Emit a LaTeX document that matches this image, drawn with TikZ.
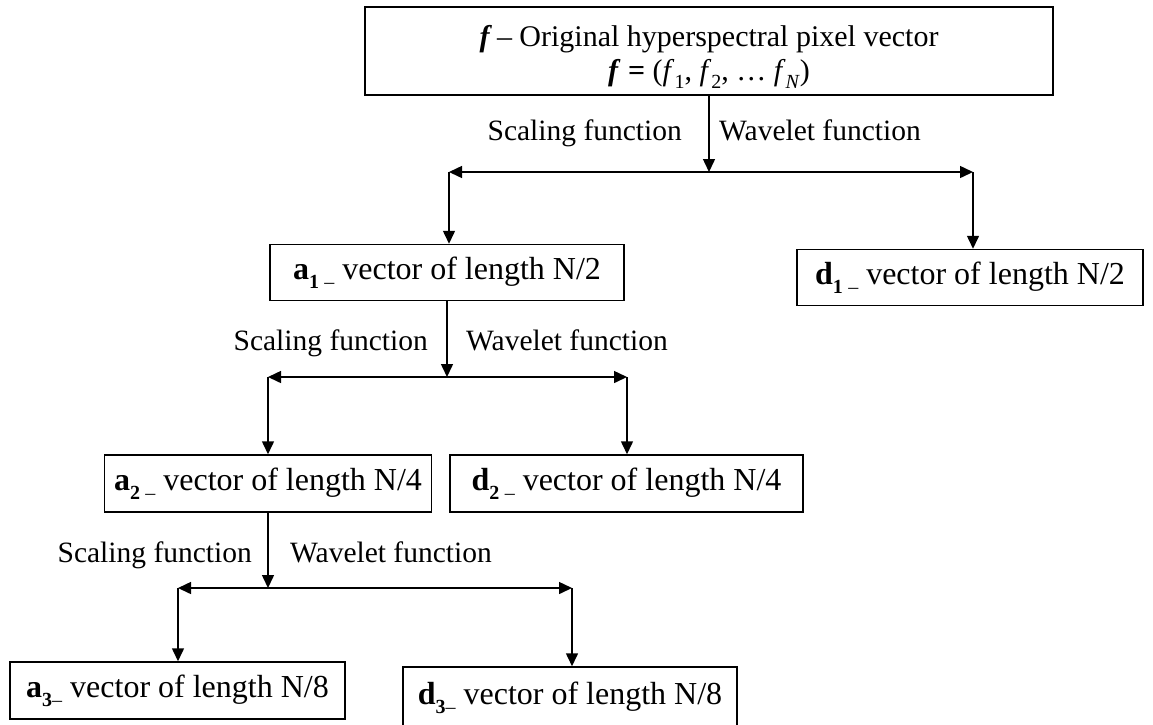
\documentclass[tikz,border=0pt]{standalone}
\usepackage{fontspec}
\setmainfont{Liberation Serif}
\usetikzlibrary{arrows.meta}
% lowered small subscript that scales with the large text
\newcommand{\lowsub}[1]{\raisebox{-0.28em}{\fontsize{20}{20}\selectfont #1}}
\newcommand{\vecname}[2]{\textbf{#1\lowsub{#2}}}
\begin{document}
\begin{tikzpicture}[x=1pt,y=-1pt,
  box/.style={draw, line width=1.5pt, inner sep=0pt, align=center,
              font=\fontsize{32}{38}\selectfont},
  headbox/.style={box, font=\fontsize{30}{34}\selectfont},
  arr/.style={line width=1.5pt, -{Triangle[length=13pt,width=12pt]}},
  lbl/.style={inner sep=0pt, font=\fontsize{29.5}{35}\selectfont}]
\clip (0,0) rectangle (1153,724);
\fill[white] (0,0) rectangle (1153,724);

% boxes
\node[headbox, minimum width=688pt, minimum height=88pt] (top) at (709,51)
  {\rule{0pt}{33pt}{\bfseries\itshape f} -- Original hyperspectral pixel vector\\
   {\bfseries\itshape f} \textbf{=} (\textit{f}\lowsub{1}, \textit{f}\lowsub{2}, \ldots\ \textit{f}\lowsub{\textit{N}})};
\node[box, minimum width=354pt, minimum height=56pt] (a1) at (447,272.5)
  {\vecname{a}{1}\,\lowsub{--} vector of length N/2};
\node[box, minimum width=346pt, minimum height=56pt] (d1) at (970,277.5)
  {\vecname{d}{1}\,\lowsub{--} vector of length N/2};
\node[box, minimum width=327pt, minimum height=57pt] (a2) at (268,483.5)
  {\vecname{a}{2}\,\lowsub{--} vector of length N/4};
\node[box, minimum width=353pt, minimum height=57pt] (d2) at (626.5,483.5)
  {\vecname{d}{2}\,\lowsub{--} vector of length N/4};
\node[box, minimum width=335pt, minimum height=57pt] (a3) at (177.5,690.5)
  {\vecname{a}{3}\lowsub{--} vector of length N/8};
\node[box, minimum width=334pt, minimum height=62pt] (d3) at (570,698)
  {\vecname{d}{3}\lowsub{--} vector of length N/8};

% branch points
\coordinate (j1) at (709,172);
\coordinate (j1l) at (449,172);
\coordinate (j1r) at (973,172);
\coordinate (j2) at (447,377);
\coordinate (j2l) at (268,377);
\coordinate (j2r) at (627,377);
\coordinate (j3) at (268,588);
\coordinate (j3l) at (178,588);
\coordinate (j3r) at (572,588);

% level 1
\draw[arr] (top.south) -- (j1);
\draw[arr] (j1) -- (j1l);
\draw[arr] (j1) -- (j1r);
\draw[arr] (j1l) -- (a1.north -| j1l);
\draw[arr] (j1r) -- (d1.north -| j1r);
\node[lbl, anchor=base east] at (682,140) {Scaling function};
\node[lbl, anchor=base west] at (719,140) {Wavelet function};

% level 2
\draw[arr] (a1.south) -- (j2);
\draw[arr] (j2) -- (j2l);
\draw[arr] (j2) -- (j2r);
\draw[arr] (j2l) -- (a2.north -| j2l);
\draw[arr] (j2r) -- (d2.north -| j2r);
\node[lbl, anchor=base east] at (428,350) {Scaling function};
\node[lbl, anchor=base west] at (466,350) {Wavelet function};

% level 3
\draw[arr] (a2.south) -- (j3);
\draw[arr] (j3) -- (j3l);
\draw[arr] (j3) -- (j3r);
\draw[arr] (j3l) -- (a3.north -| j3l);
\draw[arr] (j3r) -- (d3.north -| j3r);
\node[lbl, anchor=base east] at (252,562) {Scaling function};
\node[lbl, anchor=base west] at (290,562) {Wavelet function};
\end{tikzpicture}
\end{document}
